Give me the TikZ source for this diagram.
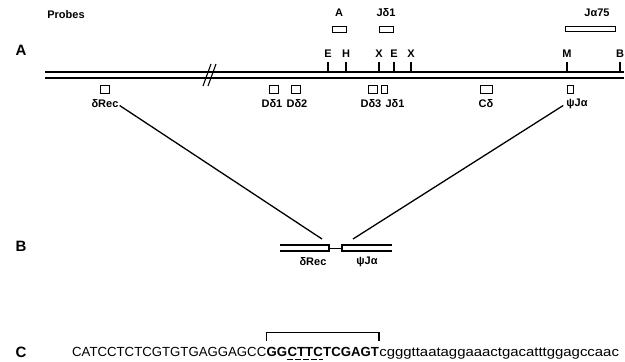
\documentclass[tikz,border=0pt]{standalone}
\usepackage{fontspec}
\setmainfont{Liberation Sans}
\usepackage{graphicx}
\tikzset{
  lbl/.style={font=\bfseries\fontsize{11}{11}\selectfont, inner sep=0pt},
  panel/.style={font=\bfseries\fontsize{15}{15}\selectfont, inner sep=0pt},
  gbox/.style={draw, line width=1pt, minimum width=9pt, minimum height=8.5pt, inner sep=0pt},
  pbox/.style={draw, line width=1pt, minimum height=5.5pt, inner sep=0pt},
  dna/.style={line width=1.2pt},
  site/.style={line width=1.2pt},
  conn/.style={line width=1.3pt},
  seq/.style={inner sep=0pt, anchor=base west, font=\fontsize{13.2}{13}\selectfont},
  seqb/.style={seq, font=\bfseries\fontsize{13.2}{13}\selectfont},
}
\begin{document}
\begin{tikzpicture}[x=1pt,y=-1pt]
\useasboundingbox (0,0) rectangle (625,362);
% panel labels
\node[lbl,font=\bfseries\fontsize{11}{11}\selectfont] (probes) at (66,15) {Probes};
\node[panel] (pA) at (21,50) {A};
\node[panel] (pB) at (21,246) {B};
\node[panel] (pC) at (21,352) {C};
% chromosome A
\coordinate (L1) at (45,72); \coordinate (R1) at (624,72);
\coordinate (L2) at (45,78); \coordinate (R2) at (624,78);
\draw[dna] (L1) -- (R1);
\draw[dna] (L2) -- (R2);
% break mark
\coordinate (b1) at (203,86); \coordinate (b2) at (211,64);
\coordinate (b3) at (208,86); \coordinate (b4) at (216,64);
\draw[line width=1.1pt] (b1) -- (b2);
\draw[line width=1.1pt] (b3) -- (b4);
% restriction sites
\foreach \n/\t/\x in {sE1/E/328, sH/H/346, sX1/X/379, sE2/E/394, sX2/X/411, sM/M/567, sB/B/620}{
  \node[lbl] (\n) at (\x,54) {\t};
  \coordinate (\n t) at (\x,72);
  \draw[site] (\n t) -- ++(0,-10);
}
% probes
\node[pbox, minimum width=14pt] (prA) at (339,29.5) {};
\node[lbl] (prAl) at (339,13) {A};
\node[pbox, minimum width=14pt] (prJ) at (386,29.5) {};
\node[lbl] (prJl) at (386,13) {Jδ1};
\node[pbox, minimum width=50pt] (prJa) at (590,29) {};
\node[lbl] (prJal) at (597,13) {Jα75};
% gene boxes
\node[gbox] (gRec) at (105,89.5) {};
\node[gbox] (gD1) at (273.5,89.5) {};
\node[gbox] (gD2) at (295.5,89.5) {};
\node[gbox] (gD3) at (372.5,89.5) {};
\node[gbox, minimum width=5.5pt] (gJ1) at (384.5,89.5) {};
\node[gbox, minimum width=12pt] (gC) at (486,89.5) {};
\node[gbox, minimum width=6pt] (gPsi) at (570,89.5) {};
% gene labels
\node[lbl] (lRec) at (105,103.5) {δRec};
\node[lbl] (lD1) at (272,103.5) {Dδ1};
\node[lbl] (lD2) at (297,103.5) {Dδ2};
\node[lbl] (lD3) at (371,103.5) {Dδ3};
\node[lbl] (lJ1) at (395,103.5) {Jδ1};
\node[lbl] (lC) at (486,103.5) {Cδ};
\node[lbl] (lPsi) at (577,103.5) {ψJα};
% panel B
\coordinate (bl1) at (280,245); \coordinate (br1) at (329,245);
\coordinate (bl2) at (280,251); \coordinate (br2) at (329,251);
\coordinate (cl1) at (342,245); \coordinate (cr1) at (392,245);
\coordinate (cl2) at (342,251); \coordinate (cr2) at (392,251);
\coordinate (jl) at (329,248); \coordinate (jr) at (342,248);
\draw[dna] (bl1) -- (br1) -- (br2) -- (bl2);
\draw[dna] (cr1) -- (cl1) -- (cl2) -- (cr2);
\draw[line width=1pt] (jl) -- (jr);
\node[lbl] (bRec) at (313,262) {δRec};
\node[lbl] (bPsi) at (367,262) {ψJα};
% connectors
\coordinate (eL) at (322,239);
\coordinate (eR) at (353,239);
\draw[conn] (lRec.east) ++(1,2) -- (eL);
\draw[conn] (lPsi.west) ++(-3,2) -- (eR);
% panel C sequence
\node[seq] (s1) at (72,356) {CATCCTCTCGTGTGAGGAGCC};
\node[seqb] (s2a) at (s1.base east) {GG};
\node[seqb] (s2b) at (s2a.base east) {CTTC};
\node[seqb] (s2c) at (s2b.base east) {TCGAGT};
\node[seq] (s3) at (s2c.base east) {\scalebox{1.13}[1]{cgggttaataggaaactgacatttggagccaac}};
\draw[line width=1.3pt] ([yshift=6]s2a.north west) -- ++(0,-8) -| ([yshift=6]s2c.north east);
\draw[line width=1pt, dash pattern=on 6pt off 2pt] ([yshift=-3]s2b.base west) -- ([yshift=-3]s2b.base east);
\end{tikzpicture}
\end{document}
